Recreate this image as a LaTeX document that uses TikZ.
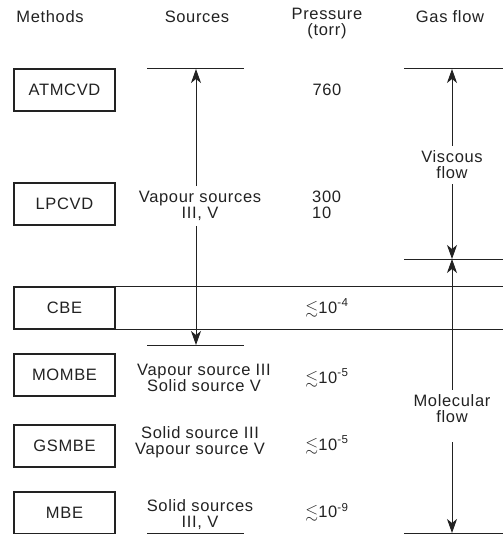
\documentclass[tikz,border=0pt]{standalone}
\usepackage{fontspec}
\setmainfont[LetterSpace=4]{Liberation Sans}
\usepackage{amsmath,amssymb}
\usetikzlibrary{arrows.meta}
\definecolor{FigInk}{HTML}{222222}

\begin{document}
\begin{tikzpicture}[x=1pt, y=-1pt,
    every node/.style={font=\fontsize{16.5}{16}\selectfont, text=FigInk},
    method/.style={draw=FigInk, line width=1.1pt, minimum width=101pt,
                   minimum height=42pt, inner sep=0pt},
    txt/.style={align=center, inner sep=5pt},
    rule/.style={draw=FigInk, line width=1pt},
    flowarrow/.style={draw=FigInk, line width=1pt,
                      -{Stealth[length=14pt, width=10pt, inset=4pt]}}]
  \useasboundingbox (0,0) rectangle (503,534);
  % column heads
  \node (hmeth) at (50,17) {Methods};
  \node (hsrc) at (197,17) {Sources};
  \node[align=center, inner sep=0pt] (hpres) at (327,24) {Pressure\\(torr)};
  \node (hgas) at (450,17) {Gas flow};
  % method boxes
  \foreach \y/\lab/\nm in {90/ATMCVD/atm, 204/LPCVD/lpcvd, 308/CBE/cbe,
                           375/MOMBE/mombe, 446/GSMBE/gsmbe, 513/MBE/mbe} {
    \node[method] (\nm) at (64.5,\y) {\lab};
  }
  % CBE row runs across
  \coordinate (cbeend) at (503,308);
  \draw[rule] (cbe.north east) -- (cbe.north -| cbeend);
  \draw[rule] (cbe.south east) -- (cbe.south -| cbeend);
  % sources column
  \coordinate (srctop) at (196,69);
  \coordinate (srcbot) at (196,345);
  \draw[rule] (147,69) -- (244,69);
  \draw[rule] (147,345) -- (244,345);
  \draw[rule] (147,533) -- (244,533);
  \node[txt] (lpsrc) at (200,206) {Vapour sources\\III, V};
  \draw[flowarrow] (lpsrc.north -| srctop) -- (srctop);
  \draw[flowarrow] (lpsrc.south -| srcbot) -- (srcbot);
  \node[txt] (smombe) at (204,378) {Vapour source III\\Solid source V};
  \node[txt] (sgsmbe) at (200,442) {Solid source III\\Vapour source V};
  \node[txt] (smbe) at (200,515) {Solid sources\\III, V};
  % pressure column
  \node (p760) at (327,90) {760};
  \node[align=left, anchor=west, inner sep=0pt] (plp) at (312,205) {300\\10};
  \node (pcbe) at (327,308) {$\lesssim$10\textsuperscript{-4}};
  \node (pmombe) at (327,378) {$\lesssim$10\textsuperscript{-5}};
  \node (pgsmbe) at (327,445) {$\lesssim$10\textsuperscript{-5}};
  \node (pmbe) at (327,512) {$\lesssim$10\textsuperscript{-9}};
  % gas flow column
  \coordinate (gastop) at (452,69);
  \coordinate (gasmid) at (452,259);
  \coordinate (gasbot) at (452,533);
  \draw[rule] (404,69) -- (503,69);
  \draw[rule] (404,259) -- (503,259);
  \draw[rule] (404,533) -- (503,533);
  \node[txt] (visc) at (452,165) {Viscous\\flow};
  \draw[flowarrow] (visc) -- (gastop);
  \draw[flowarrow] (visc) -- (gasmid);
  \node[txt] (molec) at (452,409) {Molecular\\flow};
  \draw[flowarrow] (molec) -- (gasmid);
  \draw[flowarrow, shorten <=14pt] (molec) -- (gasbot);
\end{tikzpicture}
\end{document}
